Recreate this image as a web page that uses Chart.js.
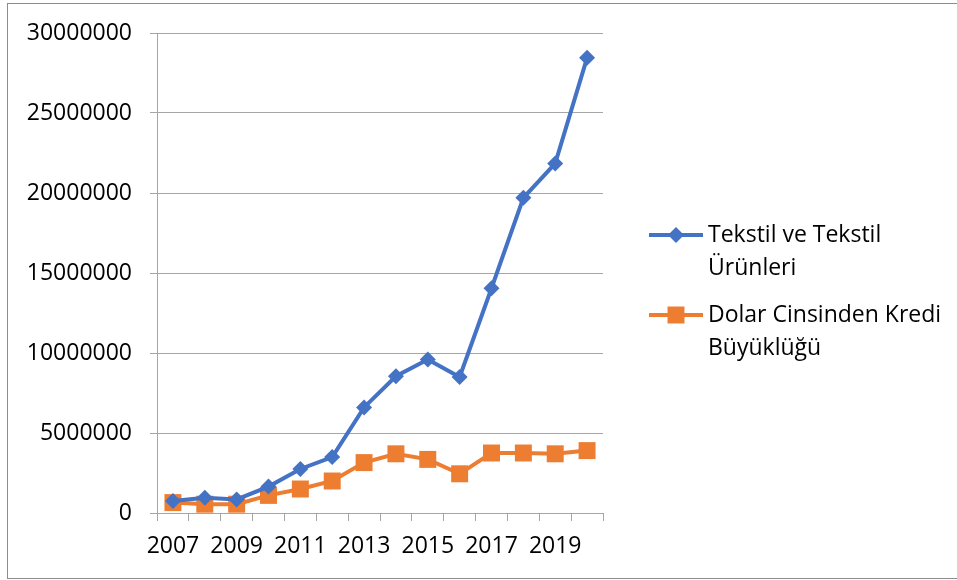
<!DOCTYPE html>
<html lang="tr">
<head>
  <meta charset="UTF-8">
  <title>Tekstil ve Tekstil Ürünleri</title>
  <style>
    body {
      margin: 0;
      background: #fff;
      overflow: hidden;
    }
    .frame {
      position: absolute;
      left: 7px;
      top: 3px;
      width: 1000px;
      height: 574px;
      border: 1px solid #8c8c8c;
    }
    canvas {
      position: absolute;
      left: 0;
      top: 0;
    }
  </style>
</head>
<body>
  <div class="frame"></div>
  <canvas id="chart" width="957" height="580"></canvas>

  <script src="https://cdn.jsdelivr.net/npm/chart.js"></script>
  <script>
    // Years on the x axis
    const years = ['2007', '2008', '2009', '2010', '2011', '2012', '2013',
                   '2014', '2015', '2016', '2017', '2018', '2019', '2020'];

    // Series values
    const tekstil = [750000, 950000, 850000, 1650000, 2750000, 3500000, 6600000,
                     8550000, 9600000, 8500000, 14050000, 19700000, 21850000, 28450000];
    const kredi = [650000, 550000, 550000, 1100000, 1500000, 2000000, 3150000,
                   3700000, 3350000, 2450000, 3750000, 3750000, 3700000, 3900000];

    // Y axis ticks
    const yMax = 30000000;
    const yStep = 5000000;

    const seriesNames = [['Tekstil ve Tekstil', 'Ürünleri'], ['Dolar Cinsinden Kredi', 'Büyüklüğü']];

    const FONT = "'Open Sans', sans-serif";
    const GRID = '#a6a6a6';

    // Legend drawn to the right, with wrapped text like the original
    const sideLegend = {
      id: 'sideLegend',
      afterDraw(chart) {
        const ctx = chart.ctx;
        const rows = [235, 315];
        ctx.save();
        chart.data.datasets.forEach((ds, i) => {
          const y = rows[i];
          ctx.strokeStyle = ds.borderColor;
          ctx.lineWidth = 4;
          ctx.beginPath();
          ctx.moveTo(649, y);
          ctx.lineTo(703, y);
          ctx.stroke();
          ctx.fillStyle = ds.borderColor;
          Chart.helpers.drawPoint(ctx, {
            pointStyle: ds.pointStyle, radius: ds.pointRadius, borderWidth: 0
          }, 676, y);
          ctx.fillStyle = '#000';
          ctx.font = '23px ' + FONT;
          ctx.textBaseline = 'middle';
          ctx.textAlign = 'left';
          ds.label.forEach((line, k) => ctx.fillText(line, 708, y + k * 33));
        });
        ctx.restore();
      }
    };

    new Chart(document.getElementById('chart'), {
      type: 'line',
      data: {
        labels: years,
        datasets: [{
          label: seriesNames[0],
          data: tekstil,
          borderColor: '#4472C4',
          backgroundColor: '#4472C4',
          borderWidth: 4,
          pointStyle: 'rectRot',
          pointRadius: 8,
          pointBorderWidth: 0,
          tension: 0
        }, {
          label: seriesNames[1],
          data: kredi,
          borderColor: '#ED7D31',
          backgroundColor: '#ED7D31',
          borderWidth: 4,
          pointStyle: 'rect',
          pointRadius: 12,
          pointBorderWidth: 0,
          tension: 0
        }]
      },
      options: {
        responsive: false,
        animation: false,
        layout: { padding: { left: 0, right: 354, top: 33, bottom: 0 } },
        plugins: {
          legend: { display: false },
          tooltip: { enabled: false }
        },
        scales: {
          x: {
            offset: true,
            grid: {
              offset: true,
              drawOnChartArea: false,
              drawTicks: true,
              tickLength: 8,
              color: GRID
            },
            border: { color: GRID },
            ticks: {
              autoSkip: false,
              maxRotation: 0,
              padding: 12,
              color: '#000',
              font: { family: FONT, size: 23 },
              callback: (v, i) => (i % 2 === 0 ? years[i] : '')
            },
            afterFit: (s) => { s.height = 67; }
          },
          y: {
            min: 0,
            max: yMax,
            grid: { color: GRID, tickLength: 7 },
            border: { color: GRID },
            ticks: {
              stepSize: yStep,
              padding: 18,
              color: '#000',
              font: { family: FONT, size: 23 },
              callback: (v) => String(v)
            },
            afterFit: (s) => { s.width = 157; }
          }
        }
      },
      plugins: [sideLegend]
    });
  </script>
</body>
</html>
